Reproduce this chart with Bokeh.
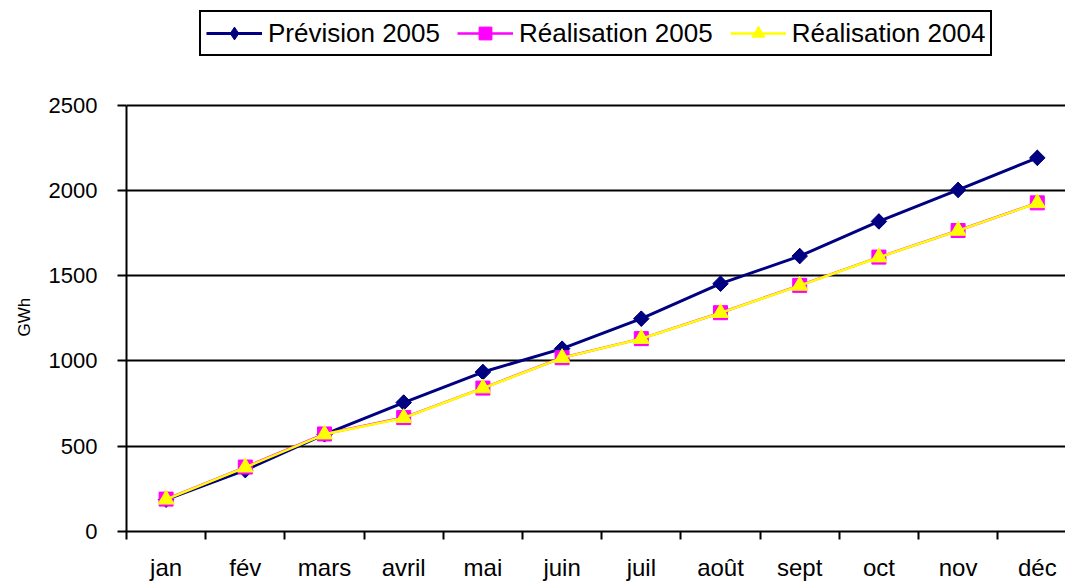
import math
from bokeh.plotting import figure
from bokeh.models import Range1d, FixedTicker, Legend, LegendItem, Title
from bokeh.embed import file_html
from bokeh.resources import INLINE

months = ["jan", "fév", "mars", "avril", "mai", "juin", "juil", "août", "sept", "oct", "nov", "déc"]
prevision_2005 = [187, 360, 570, 756, 935, 1072, 1248, 1453, 1615, 1818, 2003, 2191]
realisation_2005 = [190, 378, 572, 668, 841, 1019, 1131, 1283, 1443, 1609, 1765, 1927]
realisation_2004 = [188, 376, 570, 666, 840, 1018, 1130, 1282, 1442, 1608, 1764, 1926]
y_ticks = [0, 500, 1000, 1500, 2000, 2500]

xs = list(range(len(months)))
FONT = "Liberation Sans"

# frame extends to the top of the canvas so the legend can sit inside it;
# the axis itself is bounded to 0..2500
p = figure(width=1065, height=584, output_backend="svg", toolbar_location=None,
           x_range=Range1d(-0.5, 11.356), y_range=Range1d(0, 3113.6),
           min_border_left=126, min_border_right=0, min_border_top=0, min_border_bottom=53)
p.outline_line_color = None
p.background_fill_color = "white"
p.border_fill_color = "white"

# x axis: labels at category centers, ticks between categories
p.xaxis.ticker = FixedTicker(ticks=xs, minor_ticks=[i - 0.5 for i in range(len(months))])
p.xaxis.major_label_overrides = {i: m for i, m in enumerate(months)}
p.xaxis.major_tick_line_color = None
p.xaxis.major_tick_out = 0
p.xaxis.major_tick_in = 0
p.xaxis.minor_tick_out = 8
p.xaxis.minor_tick_in = 0
p.xaxis.minor_tick_line_color = "black"
p.xaxis.minor_tick_line_width = 2
p.xaxis.major_label_standoff = 14
p.xaxis.major_label_text_font = FONT
p.xaxis.major_label_text_font_size = "24px"
p.xaxis.major_label_text_color = "black"
p.xaxis.axis_line_color = "black"
p.xaxis.axis_line_width = 2

# y axis
p.yaxis.ticker = FixedTicker(ticks=y_ticks)
p.yaxis.bounds = (0, 2500)
p.yaxis.minor_tick_line_color = None
p.yaxis.major_tick_out = 9
p.yaxis.major_tick_in = 0
p.yaxis.major_tick_line_width = 2
p.yaxis.major_tick_line_color = "black"
p.yaxis.major_label_standoff = 20
p.yaxis.major_label_text_font = FONT
p.yaxis.major_label_text_font_size = "22px"
p.yaxis.major_label_text_color = "black"
p.yaxis.axis_line_color = "black"
p.yaxis.axis_line_width = 2

# y axis title, centred on the 0..2500 axis
ytitle = Title(text="GWh", align="left", offset=195, standoff=24,
               text_font=FONT, text_font_size="17px", text_font_style="normal",
               text_color="black")
p.add_layout(ytitle, "left")

p.xgrid.visible = False
p.ygrid.ticker = FixedTicker(ticks=y_ticks)
p.ygrid.grid_line_color = "black"
p.ygrid.grid_line_width = 2

l1 = p.line(xs, prevision_2005, line_color="#000080", line_width=3)
d1 = p.scatter(xs, prevision_2005, marker="diamond", size=15,
               fill_color="#000080", line_color="#000080")
s1 = p.scatter(xs, prevision_2005, marker="square", angle=math.pi / 4, size=11,
               fill_color="#000080", line_color="#000080")
l2 = p.line(xs, realisation_2005, line_color="#FF00FF", line_width=2.5)
s2 = p.scatter(xs, realisation_2005, marker="square", size=14,
               fill_color="#FF00FF", line_color="#FF00FF")
l3 = p.line(xs, realisation_2004, line_color="#FFFF00", line_width=2.5)
s3 = p.scatter(xs, realisation_2004, marker="triangle", size=16,
               fill_color="#FFFF00", line_color="#FFFF00")

legend = Legend(items=[
    LegendItem(label="Prévision 2005", renderers=[l1, d1]),
    LegendItem(label="Réalisation 2005", renderers=[l2, s2]),
    LegendItem(label="Réalisation 2004", renderers=[l3, s3]),
], location=(73, 475), orientation="horizontal")
legend.label_text_font = FONT
legend.label_text_font_size = "26px"
legend.label_text_color = "black"
legend.glyph_width = 56
legend.glyph_height = 32
legend.label_standoff = 6
legend.spacing = 17
legend.padding = 5
legend.margin = 0
legend.border_line_color = "black"
legend.border_line_alpha = 1
legend.border_line_width = 2
legend.background_fill_color = "white"
legend.background_fill_alpha = 1
p.add_layout(legend, "center")

open("out.html", "w").write(file_html(p, INLINE))
